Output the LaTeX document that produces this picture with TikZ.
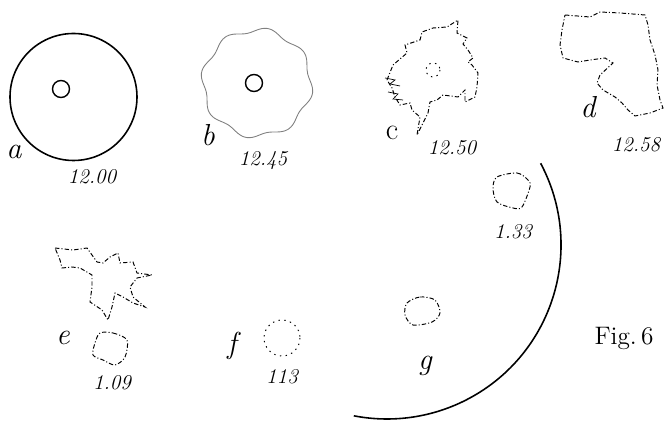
\documentclass[tikz,border=0pt]{standalone}
\begin{document}
\begin{tikzpicture}[x=0.02cm,y=-0.02cm,
  rim/.style={line width=0.9pt},
  crust/.style={line width=0.55pt,dash pattern=on 2.5pt off 1.2pt on 0.6pt off 1.2pt},
  speck/.style={line width=0.55pt,dash pattern=on 0.8pt off 2.5pt},
  lbl/.style={font=\LARGE\itshape},
  num/.style={font=\large\itshape}]
\useasboundingbox (0,0) rectangle (666,421);
% a
\draw[rim] (73.5,97) circle[radius=63.5];
\draw[line width=0.8pt] (61,89) circle[radius=8.5];
\node[lbl] (a) at (14,152) {a};
\node[num] (na) at (92,177) {12.00};
% b
\draw[gray,line width=0.5pt] plot[smooth cycle,domain=0:355,samples=72] ({257+(54+2.5*sin(8*\x))*cos(\x)},{83+(53+2.5*sin(8*\x))*sin(\x)});
\draw[line width=0.8pt] (254,83) circle[radius=8.5];
\node[lbl] (b) at (208,135) {b};
\node[num] (nb) at (263,161) {12.45};
% c
\draw[crust] plot coordinates {(387,80) (393,65) (407,53) (405,45) (420,40) (422,32) (433,28) (447,27) (458,20) (457,33) (467,38) (463,44) (468,50) (473,58) (468,62) (472,65) (478,73) (477,87) (475,97) (465,102) (465,90) (458,97) (443,95) (437,100) (430,102) (428,113) (417,135) (420,117) (412,110) (410,103) (400,105) (395,97) (392,88) (387,80)};
\draw[line width=0.4pt] (385,78)--(395,80)--(390,84)--(400,86);
\draw[line width=0.4pt] (388,92)--(398,94)--(393,99)--(403,100);
\draw[speck] (433,70) circle[radius=7];
\node[font=\LARGE] (c) at (392,133) {c};
\node[num] (nc) at (452,148) {12.50};
% d
\draw[crust] plot coordinates {(565,15) (590,17) (600,12) (620,13) (645,15) (648,25) (650,40) (655,55) (658,70) (657,85) (660,100) (663,108) (650,113) (635,116) (628,110) (622,103) (615,97) (603,90) (597,83) (600,75) (613,63) (605,58) (590,60) (578,62) (563,58) (560,45) (562,30) (565,15)};
\node[lbl] (d) at (588,107) {d};
\node[num] (nd) at (636,145) {12.58};
% e
\draw[crust] plot coordinates {(55,248) (73,250) (87,248) (97,262) (103,263) (110,257) (118,253) (120,263) (133,262) (137,273) (152,275) (137,278) (130,287) (133,297) (145,307) (133,303) (123,297) (115,293) (112,307) (108,320) (102,310) (90,302) (92,287) (92,275) (80,268) (72,267) (62,268) (60,260) (55,248)};
\draw[crust] plot[smooth cycle] coordinates {(100,333) (113,333) (127,340) (125,357) (115,365) (103,360) (93,355) (95,343)};
\node[lbl] (e) at (63,338) {e};
\node[num] (ne) at (112,383) {1.09};
% f
\draw[speck] (282,338) circle[radius=18];
\node[lbl] (f) at (232,346) {f};
\node[num] (nf) at (282,377) {113};
% g
\draw[rim] (387,245) ++(-28:174) arc[start angle=-28,end angle=101,radius=174];
\draw[crust] plot[smooth cycle] coordinates {(497,177) (517,173) (528,180) (530,187) (522,207) (513,208) (497,202) (493,188)};
\node[num] (ng) at (513,232) {1.33};
\draw[crust] plot[smooth cycle] coordinates {(407,303) (420,297) (435,300) (440,313) (432,322) (413,325) (405,315)};
\node[lbl] (g) at (425,366) {g};
\node[font=\Large] (fig) at (624,338) {Fig.\,6};
\end{tikzpicture}
\end{document}
